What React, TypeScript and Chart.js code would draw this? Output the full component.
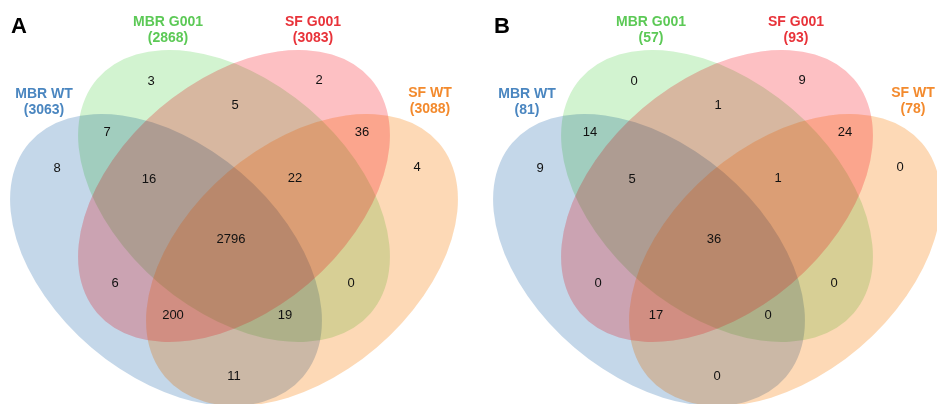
import React, { useEffect, useRef } from "react";
import { Chart, registerables } from "chart.js";
Chart.register(...registerables);

// ---- data ----
const panelLetters = ["A", "B"];
const setNames = ["MBR WT", "MBR G001", "SF G001", "SF WT"];
const setTotalsA = [3063, 2868, 3083, 3088];
const setTotalsB = [81, 57, 93, 78];
const regionKeys = ["G", "R", "GR", "BG", "RO", "B", "O", "BGR", "GRO", "BGRO", "BR", "GO", "BRO", "BGO", "BO"];
const regionCountsA = [3, 2, 5, 7, 36, 8, 4, 16, 22, 2796, 6, 0, 200, 19, 11];
const regionCountsB = [0, 9, 1, 14, 24, 9, 0, 5, 1, 36, 0, 0, 17, 0, 0];

// ---- layout (panel-relative pixel space) ----
const W = 937;
const H = 404;
const PANEL_X = [0, 483];
const REGION_POS: Record<string, number[]> = {
  G: [151, 81], R: [319, 80], GR: [235, 105], BG: [107, 132], RO: [362, 132],
  B: [57, 168], O: [417, 167], BGR: [149, 179], GRO: [295, 178], BGRO: [231, 239],
  BR: [115, 283], GO: [351, 283], BRO: [173, 315], BGO: [285, 315], BO: [234, 376],
};
const ELLIPSES = [
  { cx: 166, cy: 260, rot: 40.5 },
  { cx: 234, cy: 196, rot: 40.5 },
  { cx: 234, cy: 196, rot: -40.5 },
  { cx: 302, cy: 260, rot: -40.5 },
];
const SEMI_A = 180;
const SEMI_B = 115;
// multiply-pass fills, then a warm glaze over the two SF sets
const FILLS = ["#c4d7e9", "#d2f3d0", "#fdd7de", "#fdf5cf"];
const GLAZE = ["", "", "rgba(255,60,40,0.15)", "rgba(255,60,40,0.15)"];
const TEXT_COLORS = ["#4a86c0", "#5cc956", "#e8333a", "#f38a2d"];
const LABEL_POS = [[44, 94], [168, 22], [313, 22], [430, 93]];
const LETTER_POS = [[19, 27], [19, 27]];
const FONT = '"Liberation Sans", Arial, sans-serif';

function ellipsePath(chart: any, ox: number, e: any) {
  const xs = chart.scales.x;
  const ys = chart.scales.y;
  const ctx = chart.ctx;
  const px = xs.getPixelForValue(ox + e.cx);
  const py = ys.getPixelForValue(e.cy);
  const ra = Math.abs(xs.getPixelForValue(SEMI_A) - xs.getPixelForValue(0));
  const rb = Math.abs(ys.getPixelForValue(SEMI_B) - ys.getPixelForValue(0));
  ctx.beginPath();
  ctx.ellipse(px, py, ra, rb, (e.rot * Math.PI) / 180, 0, Math.PI * 2);
}

const vennPlugin = {
  id: "venn",
  beforeDraw(chart: any) {
    const ctx = chart.ctx;
    ctx.save();
    ctx.fillStyle = "#ffffff";
    ctx.fillRect(0, 0, chart.width, chart.height);
    ctx.restore();
  },
  beforeDatasetsDraw(chart: any) {
    const ctx = chart.ctx;
    const area = chart.chartArea;
    ctx.save();
    ctx.beginPath();
    ctx.rect(area.left, area.top, area.right - area.left, area.bottom - area.top);
    ctx.clip();
    ctx.globalCompositeOperation = "multiply";
    PANEL_X.forEach((ox) => {
      ELLIPSES.forEach((e, i) => {
        ellipsePath(chart, ox, e);
        ctx.fillStyle = FILLS[i];
        ctx.fill();
      });
    });
    ctx.globalCompositeOperation = "source-over";
    PANEL_X.forEach((ox) => {
      ELLIPSES.forEach((e, i) => {
        if (!GLAZE[i]) return;
        ellipsePath(chart, ox, e);
        ctx.fillStyle = GLAZE[i];
        ctx.fill();
      });
    });
    ctx.restore();
  },
  afterDatasetsDraw(chart: any) {
    const ctx = chart.ctx;
    const xs = chart.scales.x;
    const ys = chart.scales.y;
    ctx.save();
    ctx.textAlign = "center";
    ctx.textBaseline = "middle";
    ctx.font = `13px ${FONT}`;
    ctx.fillStyle = "#111111";
    chart.data.datasets.forEach((ds: any, di: number) => {
      const meta = chart.getDatasetMeta(di);
      meta.data.forEach((pt: any, i: number) => {
        ctx.fillText(String(ds.data[i].v), pt.x, pt.y);
      });
    });
    const totals = [setTotalsA, setTotalsB];
    ctx.font = `bold 14px ${FONT}`;
    PANEL_X.forEach((ox, p) => {
      setNames.forEach((name, i) => {
        const x = xs.getPixelForValue(ox + LABEL_POS[i][0]);
        const y = ys.getPixelForValue(LABEL_POS[i][1]);
        ctx.fillStyle = TEXT_COLORS[i];
        ctx.fillText(name, x, y);
        ctx.fillText(`(${totals[p][i]})`, x, y + 16);
      });
    });
    ctx.font = `bold 22px ${FONT}`;
    ctx.fillStyle = "#000000";
    PANEL_X.forEach((ox, p) => {
      ctx.fillText(panelLetters[p], xs.getPixelForValue(ox + LETTER_POS[p][0]), ys.getPixelForValue(LETTER_POS[p][1]));
    });
    ctx.restore();
  },
};

export default function App() {
  const ref = useRef<HTMLCanvasElement>(null);
  useEffect(() => {
    if (!ref.current) return;
    const countsByPanel = [regionCountsA, regionCountsB];
    const datasets = PANEL_X.map((ox, p) => ({
      label: panelLetters[p],
      data: regionKeys.map((k, i) => ({ x: ox + REGION_POS[k][0], y: REGION_POS[k][1], v: countsByPanel[p][i] })),
      pointRadius: 0,
      pointHoverRadius: 0,
    }));
    const chart = new Chart(ref.current, {
      type: "scatter",
      data: { datasets: datasets as any },
      options: {
        animation: false,
        responsive: false,
        events: [],
        layout: { padding: 0 },
        plugins: { legend: { display: false }, tooltip: { enabled: false } },
        scales: {
          x: { type: "linear", min: 0, max: W, display: false },
          y: { type: "linear", min: 0, max: H, reverse: true, display: false },
        },
      },
      plugins: [vennPlugin],
    });
    return () => chart.destroy();
  }, []);
  return (
    <div style={{ position: "absolute", left: 0, top: 0, width: W, height: H }}>
      <canvas ref={ref} width={W} height={H} style={{ width: W, height: H, display: "block" }} />
    </div>
  );
}
